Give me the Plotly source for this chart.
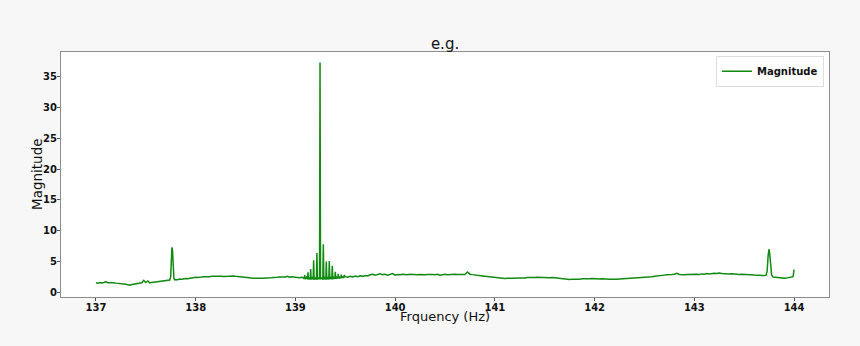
import plotly.graph_objects as go

# Frequency (Hz) and magnitude values
freq = [
    137.00, 137.02, 137.04, 137.06, 137.08, 137.10, 137.12, 137.14, 137.16, 137.18,
    137.20, 137.22, 137.24, 137.26, 137.28, 137.30, 137.32, 137.34, 137.36, 137.38,
    137.40, 137.42, 137.44, 137.46, 137.48, 137.50, 137.52, 137.54, 137.56, 137.58,
    137.60, 137.62, 137.64, 137.66, 137.68, 137.70, 137.72, 137.74,
    137.75, 137.755, 137.762, 137.768, 137.775, 137.782, 137.79,
    137.80, 137.82, 137.84, 137.86, 137.88, 137.90, 137.92, 137.94, 137.96, 137.98,
    138.00, 138.02, 138.04, 138.06, 138.08, 138.10, 138.12, 138.14, 138.16, 138.18,
    138.20, 138.22, 138.24, 138.26, 138.28, 138.30, 138.32, 138.34, 138.36, 138.38,
    138.40, 138.42, 138.44, 138.46, 138.48, 138.50, 138.52, 138.54, 138.56, 138.58,
    138.60, 138.62, 138.64, 138.66, 138.68, 138.70, 138.72, 138.74, 138.76, 138.78,
    138.80, 138.82, 138.84, 138.86, 138.88, 138.90, 138.92, 138.94, 138.96, 138.98,
    139.00, 139.02, 139.04, 139.06, 139.08,
    139.088, 139.093, 139.098, 139.110, 139.121, 139.126, 139.131, 139.140,
    139.148, 139.153, 139.158, 139.168, 139.178, 139.183, 139.188, 139.200,
    139.211, 139.216, 139.221, 139.232, 139.242, 139.247, 139.252, 139.264,
    139.275, 139.280, 139.285, 139.295, 139.305, 139.310, 139.315, 139.325,
    139.335, 139.340, 139.345, 139.355, 139.365, 139.370, 139.375, 139.385,
    139.395, 139.400, 139.405, 139.415, 139.425, 139.430, 139.435, 139.445,
    139.455, 139.460, 139.465, 139.475, 139.485, 139.490,
    139.500, 139.525, 139.550, 139.575, 139.600, 139.625, 139.650, 139.675, 139.700, 139.725,
    139.750, 139.775, 139.800, 139.825, 139.850, 139.875, 139.900, 139.925, 139.950, 139.975,
    140.000, 140.025, 140.050, 140.075, 140.100, 140.125, 140.150, 140.175, 140.200, 140.225,
    140.250, 140.275, 140.300, 140.325, 140.350, 140.375, 140.400, 140.425, 140.450, 140.475,
    140.500, 140.525, 140.550, 140.575, 140.600, 140.625, 140.650, 140.675, 140.700, 140.725,
    140.750, 140.775, 140.800, 140.825, 140.850, 140.875, 140.900, 140.925, 140.950, 140.975,
    141.000, 141.025, 141.050, 141.075, 141.100, 141.125, 141.150, 141.175, 141.200, 141.225,
    141.250, 141.275, 141.300, 141.325, 141.350, 141.375, 141.400, 141.425, 141.450, 141.475,
    141.500, 141.525, 141.550, 141.575, 141.600, 141.625, 141.650, 141.675, 141.700, 141.725,
    141.750, 141.775, 141.800, 141.825, 141.850, 141.875, 141.900, 141.925, 141.950, 141.975,
    142.000, 142.025, 142.050, 142.075, 142.100, 142.125, 142.150, 142.175, 142.200, 142.225,
    142.250, 142.275, 142.300, 142.325, 142.350, 142.375, 142.400, 142.425, 142.450, 142.475,
    142.500, 142.525, 142.550, 142.575, 142.600, 142.625, 142.650, 142.675, 142.700, 142.725,
    142.750, 142.775, 142.800, 142.825, 142.850, 142.875, 142.900, 142.925, 142.950, 142.975,
    143.000, 143.025, 143.050, 143.075, 143.100, 143.125, 143.150, 143.175, 143.200, 143.225,
    143.250, 143.275, 143.300, 143.325, 143.350, 143.375, 143.400, 143.425, 143.450, 143.475,
    143.500, 143.525, 143.550, 143.575, 143.600, 143.625, 143.650, 143.675, 143.700, 143.720,
    143.730, 143.740, 143.748, 143.756, 143.765, 143.775, 143.790,
    143.810, 143.830, 143.850, 143.870, 143.890, 143.910, 143.930, 143.950, 143.970, 143.990,
    144.000,
]

magnitude = [
    1.55, 1.50, 1.58, 1.52, 1.60, 1.75, 1.55, 1.58, 1.52, 1.55,
    1.50, 1.48, 1.45, 1.42, 1.38, 1.30, 1.25, 1.15, 1.28, 1.32,
    1.35, 1.38, 1.42, 1.55, 1.95, 1.60, 1.85, 1.55, 1.62, 1.65,
    1.70, 1.72, 1.78, 1.82, 1.85, 1.90, 1.95, 2.00,
    2.60, 5.00, 7.30, 6.80, 4.00, 2.30, 2.05,
    2.10, 2.05, 2.15, 2.12, 2.20, 2.25, 2.22, 2.30, 2.35, 2.40,
    2.45, 2.40, 2.50, 2.48, 2.55, 2.52, 2.58, 2.55, 2.60, 2.62,
    2.58, 2.65, 2.60, 2.62, 2.58, 2.60, 2.65, 2.62, 2.70, 2.66,
    2.60, 2.55, 2.50, 2.48, 2.42, 2.40, 2.38, 2.35, 2.32, 2.30,
    2.28, 2.25, 2.22, 2.28, 2.30, 2.32, 2.30, 2.35, 2.38, 2.42,
    2.40, 2.45, 2.50, 2.48, 2.55, 2.50, 2.60, 2.45, 2.52, 2.48,
    2.42, 2.50, 2.38, 2.45, 2.40,
    2.20, 2.80, 2.15, 2.45, 2.15, 3.25, 2.10, 2.40,
    2.10, 3.80, 2.10, 2.35, 2.10, 5.20, 2.10, 2.30,
    2.10, 6.40, 2.10, 2.30, 2.20, 37.30, 2.20, 2.30,
    2.10, 7.80, 2.10, 2.35, 2.10, 5.00, 2.10, 2.35,
    2.10, 5.10, 2.15, 2.40, 2.15, 4.30, 2.15, 2.40,
    2.20, 3.35, 2.20, 2.45, 2.25, 3.00, 2.25, 2.45,
    2.30, 2.90, 2.35, 2.50, 2.40, 2.80,
    2.55, 2.45, 2.60, 2.50, 2.65, 2.55, 2.70, 2.60, 2.75, 2.65,
    2.85, 2.95, 2.80, 2.90, 3.00, 2.85, 2.95, 2.80, 2.90, 3.05,
    2.80, 2.90, 2.85, 2.95, 2.90, 2.85, 2.95, 2.88, 2.92, 2.85,
    2.90, 2.95, 2.88, 2.90, 2.85, 2.92, 2.88, 2.95, 2.80, 2.90,
    2.95, 2.88, 2.92, 2.85, 2.95, 2.90, 2.88, 2.95, 2.90, 3.30,
    2.95, 2.88, 2.85, 2.78, 2.70, 2.65, 2.60, 2.55, 2.50, 2.45,
    2.42, 2.35, 2.30, 2.28, 2.25, 2.30, 2.28, 2.32, 2.30, 2.35,
    2.32, 2.38, 2.35, 2.40, 2.38, 2.42, 2.40, 2.45, 2.42, 2.40,
    2.45, 2.42, 2.38, 2.40, 2.35, 2.30, 2.25, 2.20, 2.15, 2.12,
    2.10, 2.15, 2.12, 2.18, 2.15, 2.20, 2.18, 2.22, 2.20, 2.25,
    2.20, 2.22, 2.18, 2.20, 2.15, 2.20, 2.12, 2.15, 2.10, 2.15,
    2.18, 2.20, 2.22, 2.25, 2.28, 2.30, 2.32, 2.35, 2.38, 2.40,
    2.42, 2.45, 2.50, 2.55, 2.60, 2.68, 2.72, 2.78, 2.80, 2.85,
    2.82, 2.90, 2.95, 3.10, 2.90, 2.95, 2.88, 2.92, 2.95, 2.90,
    2.92, 2.95, 2.90, 3.00, 2.95, 3.05, 2.98, 3.05, 3.10, 3.05,
    3.15, 3.05, 3.00, 3.05, 2.98, 3.02, 2.95, 3.00, 2.92, 2.95,
    2.90, 2.88, 2.85, 2.82, 2.80, 2.78, 2.75, 2.70, 2.72, 2.80,
    3.50, 6.00, 7.00, 6.20, 4.00, 2.80, 2.50,
    2.45, 2.40, 2.35, 2.30, 2.32, 2.28, 2.35, 2.40, 2.45, 2.55,
    3.70,
]

x_ticks = [137, 138, 139, 140, 141, 142, 143, 144]
y_ticks = [0, 5, 10, 15, 20, 25, 30, 35]

FONT = "DejaVu Sans"
LINE_GREEN = "#108a10"
TEXT = "#111111"

fig = go.Figure()
fig.add_trace(go.Scatter(
    x=freq, y=magnitude, mode="lines", name="Magnitude",
    line=dict(color=LINE_GREEN, width=1.5),
))

axis_common = dict(
    showline=True, linecolor="#8c8c8c", linewidth=1, mirror=True,
    showgrid=False, zeroline=False,
    ticks="outside", ticklen=3, tickcolor="#555555", tickwidth=1,
    ticklabelstandoff=-2,
    tickfont=dict(family=FONT, size=10, color=TEXT, weight="bold"),
)

fig.update_layout(
    width=860, height=346,
    margin=dict(l=61, r=31, t=52, b=49),
    paper_bgcolor="#f7f7f7", plot_bgcolor="#ffffff",
    title=dict(text="e.g.", x=0.5175, xanchor="center", y=0.873, yanchor="middle",
               font=dict(family=FONT, size=15, color=TEXT)),
    showlegend=True,
    legend=dict(x=0.9935, xanchor="right", y=0.985, yanchor="top",
                bgcolor="#ffffff", bordercolor="#dddddd", borderwidth=1,
                font=dict(family=FONT, size=10, color=TEXT, weight="bold"),
                tracegroupgap=0, itemwidth=30),
    xaxis=dict(range=[136.65, 144.35], tickvals=x_ticks, **axis_common),
    yaxis=dict(range=[-0.75, 39.0], tickvals=y_ticks, **axis_common),
    annotations=[
        dict(text="Frquency (Hz)", xref="paper", yref="paper", x=0.5, y=-0.0816,
             xanchor="center", yanchor="middle", showarrow=False,
             font=dict(family=FONT, size=13, color=TEXT)),
        dict(text="Magnitude", xref="paper", yref="paper", x=-0.0319, y=0.5,
             xanchor="center", yanchor="middle", textangle=-90, showarrow=False,
             font=dict(family=FONT, size=13.5, color=TEXT)),
    ],
)

fig.write_html("out.html")
